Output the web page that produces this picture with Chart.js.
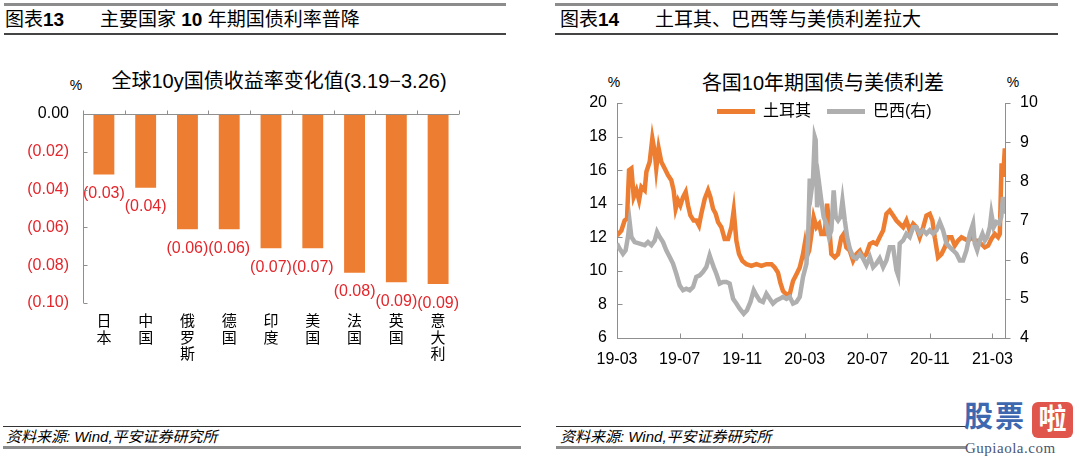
<!DOCTYPE html>
<html>
<head>
<meta charset="utf-8">
<script src="https://cdn.jsdelivr.net/npm/chart.js@4/dist/chart.umd.min.js"></script>
<style>
body{margin:0;width:1080px;height:458px;background:#fff;position:relative;overflow:hidden;font-family:"Liberation Sans","Noto Sans CJK SC",sans-serif;color:#000;}
.a{position:absolute;white-space:nowrap;}
.line{position:absolute;}
.head{font-size:19px;line-height:22px;top:9px;}
.ctitle{font-size:20px;line-height:22px;transform:translate(-50%,-50%);}
.pct{font-size:14px;line-height:16px;transform:translate(-50%,-50%);}
.foot{font-size:15px;line-height:18px;top:428px;font-style:italic;}
</style>
</head>
<body>
<!-- left panel frame -->
<div class="line" style="left:4px;top:3px;width:502px;height:3px;background:#8c8c8c"></div>
<div class="a head" style="left:5px">图表<b>13</b></div>
<div class="a head" style="left:100px">主要国家 <b>10</b> 年期国债利率普降</div>
<div class="line" style="left:4px;top:33px;width:502px;height:2px;background:#444"></div>
<div class="a ctitle" style="left:279px;top:81px">全球10y国债收益率变化值(3.19−3.26)</div>
<div class="a pct" style="left:76px;top:85px">%</div>
<div class="a" style="left:0;top:95px"><canvas id="c1" width="540" height="270"></canvas></div>
<div class="line" style="left:3px;top:426px;width:518px;height:1px;background:#333"></div>
<div class="a foot" style="left:6px">资料来源: Wind,平安证券研究所</div>
<div class="line" style="left:3px;top:446px;width:518px;height:3px;background:#8c8c8c"></div>

<!-- right panel frame -->
<div class="line" style="left:555px;top:3px;width:503px;height:3px;background:#8c8c8c"></div>
<div class="a head" style="left:560px">图表<b>14</b></div>
<div class="a head" style="left:655px">土耳其、巴西等与美债利差拉大</div>
<div class="line" style="left:555px;top:33px;width:503px;height:2px;background:#444"></div>
<div class="a ctitle" style="left:823px;top:83px">各国10年期国债与美债利差</div>
<div class="a pct" style="left:614px;top:82px">%</div>
<div class="a pct" style="left:1013px;top:82px">%</div>
<div class="a" style="left:540px;top:90px"><canvas id="c2" width="540" height="280"></canvas></div>
<div class="line" style="left:556px;top:426px;width:410px;height:1px;background:#333"></div>
<div class="a foot" style="left:560px">资料来源: Wind,平安证券研究所</div>
<div class="line" style="left:556px;top:446px;width:410px;height:3px;background:#8c8c8c"></div>

<!-- watermark -->
<div class="a" style="left:964px;top:400px;font-size:29px;line-height:34px;font-weight:bold;color:#3d68b0;letter-spacing:2px">股票</div>
<div class="a" style="left:1032px;top:402px;width:41px;height:36px;background:#e0554c;border-radius:6px;color:#fff;font-size:28px;line-height:36px;text-align:center;font-weight:bold">啦</div>
<div class="a" style="left:965px;top:440px;font-size:15px;line-height:16px;font-family:'Liberation Serif',serif;color:#4a5570;letter-spacing:0.5px">Gupiaola.com</div>

<script>
const fam = '"Liberation Sans", "Noto Sans CJK SC", sans-serif'
Chart.defaults.font.family = fam
Chart.defaults.color = '#000'
const red = '#e2262b'
const orange = '#ed7d31'
const grey = '#afafaf'
const axisGrey = '#8f8f8f'

// ---- chart 13 data ----
const countries = [['日','本'],['中','国'],['俄','罗','斯'],['德','国'],['印','度'],['美','国'],['法','国'],['英','国'],['意','大','利']]
const yieldChange = [-0.032,-0.039,-0.061,-0.061,-0.071,-0.071,-0.084,-0.089,-0.090]
const changeTicks = [0,-0.02,-0.04,-0.06,-0.08,-0.10]

// ---- chart 14 data (x = months since 2019-03) ----
const monthTicks = [0,4,8,12,16,20,24]
const monthLabels = ['19-03','19-07','19-11','20-03','20-07','20-11','21-03']
const leftTicks = [6,8,10,12,14,16,18,20]
const rightTicks = [4,5,6,7,8,9,10]
const seriesNames = ['土耳其','巴西(右)']
const turkeyMonth = [0,0.28,0.49,0.64,0.77,0.92,1.07,1.24,1.41,1.56,
  1.77,1.88,2.09,2.26,2.41,2.51,2.66,2.83,3.05,3.26,
  3.47,3.62,3.75,3.90,4.05,4.22,4.39,4.54,4.69,4.90,
  5.07,5.24,5.39,5.61,5.82,5.97,6.14,6.31,6.46,6.67,
  6.88,7.10,7.31,7.46,7.63,7.80,8.01,8.27,8.59,8.91,
  9.23,9.55,9.87,10.08,10.29,10.44,10.61,10.83,11.04,11.25,
  11.47,11.68,11.89,12.00,12.11,12.28,12.43,12.57,12.75,12.92,
  13.06,13.28,13.43,13.55,13.70,13.92,14.13,14.34,14.49,14.66,
  14.88,15.09,15.30,15.52,15.73,15.94,16.16,16.37,16.58,16.79,
  17.01,17.22,17.43,17.65,17.86,18.07,18.29,18.50,18.71,18.93,
  19.14,19.35,19.57,19.78,19.99,20.16,20.31,20.52,20.74,20.95,
  21.16,21.38,21.59,21.80,22.02,22.23,22.44,22.66,22.87,23.08,
  23.29,23.51,23.72,23.93,24.15,24.36,24.47,24.58,24.68,24.79]
const turkeySpread = [12.1,12.4,13.0,13.1,16.0,16.1,14.4,14.8,14.2,15.0,
  14.8,15.9,16.5,17.9,17.1,16.1,17.3,16.5,16.1,15.7,
  15.4,14.8,13.7,14.2,13.9,14.4,14.7,13.9,13.3,13.0,
  13.0,12.7,13.4,14.3,14.8,14.4,13.7,13.4,12.9,12.6,
  11.9,11.9,12.6,13.6,11.8,11.0,10.6,10.4,10.3,10.4,
  10.3,10.4,10.4,10.2,9.9,9.3,8.8,8.6,8.6,9.4,
  9.8,10.2,11.0,11.6,10.8,11.2,12.2,13.2,12.6,12.8,
  12.2,12.2,14.0,12.8,11.0,10.8,11.0,12.0,12.2,11.4,
  11.2,10.6,11.0,11.2,10.8,11.0,11.6,11.7,11.6,12.0,
  12.4,13.4,13.6,13.3,13.0,12.8,12.6,13.0,12.4,12.8,
  12.6,12.0,12.6,13.3,13.4,13.0,12.0,10.8,11.0,11.4,
  12.0,12.0,11.5,11.8,12.0,11.9,11.8,12.0,11.8,11.8,
  11.6,11.4,11.5,11.9,12.2,12.0,12.2,16.4,15.6,17.3]
const brazilMonth = [0,0.17,0.38,0.55,0.70,0.81,0.92,1.13,1.45,1.77,
  1.98,2.20,2.41,2.56,2.73,2.94,3.15,3.37,3.58,3.79,
  4.01,4.22,4.43,4.65,4.86,5.07,5.29,5.50,5.71,5.92,
  6.03,6.18,6.35,6.56,6.78,6.99,7.20,7.42,7.63,7.84,
  8.10,8.31,8.53,8.74,8.91,9.12,9.33,9.55,9.76,9.97,
  10.19,10.40,10.61,10.83,11.04,11.25,11.47,11.68,11.89,12.11,
  12.21,12.32,12.43,12.53,12.64,12.70,12.79,12.92,13.06,13.21,
  13.38,13.55,13.70,13.85,13.98,14.13,14.28,14.41,14.56,14.71,
  14.88,15.09,15.30,15.52,15.73,15.94,16.16,16.37,16.58,16.79,
  17.01,17.22,17.43,17.65,17.86,17.97,18.07,18.29,18.50,18.71,
  18.93,19.14,19.35,19.57,19.78,19.99,20.20,20.42,20.63,20.84,
  21.06,21.27,21.48,21.70,21.91,22.12,22.34,22.55,22.76,22.87,
  23.02,23.19,23.36,23.51,23.66,23.83,23.93,24.08,24.25,24.42,
  24.56,24.67,24.79]
const brazilSpread = [6.41,6.28,6.15,6.24,6.58,6.96,6.58,6.45,6.41,6.37,
  6.45,6.37,6.49,6.71,6.58,6.45,6.24,6.07,5.90,5.64,
  5.34,5.22,5.26,5.22,5.30,5.56,5.60,5.69,5.81,6.11,
  5.98,5.81,5.64,5.39,5.43,5.43,5.39,5.00,4.88,4.75,
  4.62,4.71,4.92,5.22,5.09,4.96,4.92,5.13,5.00,4.88,
  4.96,5.00,5.05,5.00,5.05,4.88,4.92,5.05,5.56,5.90,
  6.49,8.07,7.77,8.07,9.13,9.05,7.34,7.94,7.51,7.09,
  6.92,6.58,6.75,7.77,7.09,7.00,7.09,7.51,7.00,6.58,
  6.28,6.07,6.03,6.15,6.03,5.86,6.07,5.81,5.90,6.03,
  5.81,5.98,6.32,6.32,5.73,5.60,6.41,6.49,6.66,6.58,
  6.83,6.83,6.66,6.75,6.66,6.75,6.66,6.75,6.96,6.75,
  6.41,6.32,6.24,6.15,5.98,5.98,6.24,6.66,6.92,6.41,
  6.24,6.49,6.66,6.49,6.58,6.83,7.17,6.83,6.96,6.92,
  7.09,7.60,7.17]

function fmtChange(v) {
  if (Math.abs(v) < 1e-9) return '0.00'
  return '(' + Math.abs(v).toFixed(2) + ')'
}

// stop scales from pushing the chart area around with label overflow
function noPad(s) {
  s.paddingTop = 0; s.paddingBottom = 0; s.paddingLeft = 0; s.paddingRight = 0
}

// value labels under the bars
const barLabels = {
  id: 'barLabels',
  afterDatasetsDraw(chart) {
    const ctx = chart.ctx
    const meta = chart.getDatasetMeta(0)
    ctx.save()
    ctx.font = '16px ' + fam
    ctx.fillStyle = red
    ctx.textAlign = 'center'
    ctx.textBaseline = 'middle'
    meta.data.forEach((bar, i) => {
      ctx.fillText(fmtChange(yieldChange[i]), bar.x, bar.y + 19)
    })
    ctx.restore()
  }
}

// axis lines + small tick marks like the excel chart
const axes13 = {
  id: 'axes13',
  afterDraw(chart) {
    const {ctx, chartArea: a, scales} = chart
    const y0 = Math.round(scales.y.getPixelForValue(0)) + 0.5
    const lx = Math.round(a.left) + 0.5
    ctx.save()
    ctx.strokeStyle = axisGrey
    ctx.lineWidth = 1
    ctx.beginPath()
    ctx.moveTo(lx, y0); ctx.lineTo(a.right, y0)
    ctx.moveTo(lx, a.top); ctx.lineTo(lx, a.bottom)
    changeTicks.forEach(v => {
      const py = Math.round(scales.y.getPixelForValue(v)) + 0.5
      ctx.moveTo(lx, py); ctx.lineTo(lx + 4, py)
    })
    for (let i = 0; i <= countries.length; i++) {
      const px = Math.round(a.left + (a.right - a.left) * i / countries.length) + 0.5
      ctx.moveTo(px, y0); ctx.lineTo(px, y0 - 4)
    }
    ctx.stroke()
    ctx.restore()
  }
}

new Chart(document.getElementById('c1'), {
  type: 'bar',
  data: {
    labels: countries,
    datasets: [{
      data: yieldChange,
      backgroundColor: orange,
      categoryPercentage: 1,
      barPercentage: 0.5
    }]
  },
  options: {
    responsive: false,
    animation: false,
    layout: {padding: {top: 19, right: 81, left: 0, bottom: 0}},
    plugins: {legend: {display: false}, tooltip: {enabled: false}},
    scales: {
      x: {
        grid: {display: false, drawTicks: false},
        border: {display: false},
        ticks: {font: {size: 15, lineHeight: 1.1}, color: '#000', padding: 11, maxRotation: 0, autoSkip: false},
        afterFit(s) { s.height = 62; noPad(s) }
      },
      y: {
        min: -0.1, max: 0,
        afterBuildTicks(s) { s.ticks = changeTicks.map(v => ({value: v})) },
        grid: {display: false, drawTicks: false},
        border: {display: false},
        ticks: {
          font: {size: 16},
          padding: 14,
          color: c => Math.abs(c.tick.value) < 1e-9 ? '#000' : red,
          callback: v => fmtChange(v)
        },
        afterFit(s) { s.width = 83; noPad(s) }
      }
    }
  },
  plugins: [barLabels, axes13]
})

// tick marks for chart 14: inward on x and left axis, outward on right axis
const ticks14 = {
  id: 'ticks14',
  afterDraw(chart) {
    const {ctx, chartArea: a, scales} = chart
    ctx.save()
    ctx.strokeStyle = axisGrey
    ctx.lineWidth = 1
    ctx.beginPath()
    const by = Math.round(a.bottom) + 0.5
    monthTicks.forEach(m => {
      const px = Math.round(scales.x.getPixelForValue(m)) + 0.5
      ctx.moveTo(px, by); ctx.lineTo(px, by - 5)
    })
    const lx = Math.round(a.left) + 0.5
    leftTicks.forEach(v => {
      const py = Math.round(scales.y.getPixelForValue(v)) + 0.5
      ctx.moveTo(lx, py); ctx.lineTo(lx + 5, py)
    })
    const rx = Math.round(a.right) + 0.5
    rightTicks.forEach(v => {
      const py = Math.round(scales.y2.getPixelForValue(v)) + 0.5
      ctx.moveTo(rx, py); ctx.lineTo(rx + 5, py)
    })
    ctx.stroke()
    ctx.restore()
  }
}

// legend drawn inside the top of the plot, line swatch + name
const legend14 = {
  id: 'legend14',
  afterDraw(chart) {
    const {ctx, chartArea: a} = chart
    ctx.save()
    ctx.font = '16px ' + fam
    ctx.textBaseline = 'middle'
    ctx.textAlign = 'left'
    let x = a.left + 100
    const cy = a.top + 8.5
    chart.data.datasets.forEach(ds => {
      ctx.fillStyle = ds.borderColor
      ctx.fillRect(x, cy - 2.5, 38, 5)
      x += 46
      ctx.fillStyle = '#000'
      ctx.fillText(ds.label, x, cy)
      x += ctx.measureText(ds.label).width + 16
    })
    ctx.restore()
  }
}

new Chart(document.getElementById('c2'), {
  type: 'line',
  data: {
    datasets: [
      {
        label: seriesNames[0],
        data: turkeyMonth.map((m, i) => ({x: m, y: turkeySpread[i]})),
        borderColor: orange,
        backgroundColor: orange,
        borderWidth: 4.5,
        pointRadius: 0,
        yAxisID: 'y',
        order: 1
      },
      {
        label: seriesNames[1],
        data: brazilMonth.map((m, i) => ({x: m, y: brazilSpread[i]})),
        borderColor: grey,
        backgroundColor: grey,
        borderWidth: 4.5,
        pointRadius: 0,
        yAxisID: 'y2',
        order: 0
      }
    ]
  },
  options: {
    responsive: false,
    animation: false,
    layout: {padding: {top: 13, left: 0, right: 0, bottom: 0}},
    plugins: {tooltip: {enabled: false}, legend: {display: false}},
    scales: {
      x: {
        type: 'linear',
        min: 0, max: 24.8,
        afterBuildTicks(s) { s.ticks = monthTicks.map(v => ({value: v})) },
        grid: {display: false, drawTicks: false},
        border: {color: axisGrey, width: 1},
        ticks: {
          font: {size: 16}, color: '#000', padding: 12, maxRotation: 0, autoSkip: false,
          callback: v => monthLabels[monthTicks.indexOf(v)]
        },
        afterFit(s) { s.height = 32; noPad(s) }
      },
      y: {
        position: 'left',
        min: 6, max: 20,
        afterBuildTicks(s) { s.ticks = leftTicks.map(v => ({value: v})) },
        grid: {display: false, drawTicks: false},
        border: {color: axisGrey, width: 1},
        ticks: {font: {size: 16}, color: '#000', padding: 10},
        afterFit(s) { s.width = 77; noPad(s) }
      },
      y2: {
        position: 'right',
        min: 4, max: 10,
        afterBuildTicks(s) { s.ticks = rightTicks.map(v => ({value: v})) },
        grid: {display: false, drawTicks: false},
        border: {color: axisGrey, width: 1},
        ticks: {font: {size: 16}, color: '#000', padding: 15},
        afterFit(s) { s.width = 75; noPad(s) }
      }
    }
  },
  plugins: [ticks14, legend14]
})
</script>
</body>
</html>
